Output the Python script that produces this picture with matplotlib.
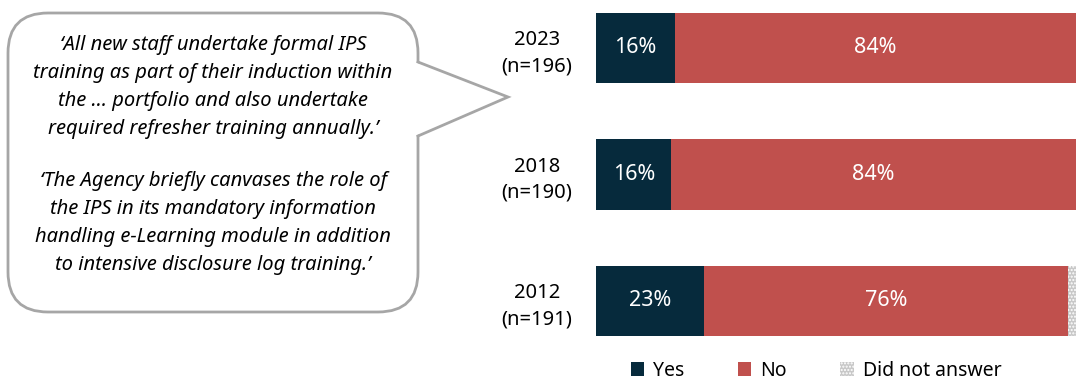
import matplotlib.pyplot as plt
from matplotlib.patches import FancyBboxPatch, Polygon, Patch
import numpy as np

plt.rcParams['font.family'] = ['Noto Sans', 'DejaVu Sans']
plt.rcParams['hatch.linewidth'] = 1.0

years = ['2023\n(n=196)', '2018\n(n=190)', '2012\n(n=191)']
yes = [16.4, 15.7, 22.6]
no = [83.6, 84.3, 75.8]
no_answer = [0.0, 0.0, 1.6]

quote1 = ("\u2018All new staff undertake formal IPS\n"
          "training as part of their induction within\n"
          "the \u2026 portfolio and also undertake\n"
          "required refresher training annually.\u2019")
quote2 = ("\u2018The Agency briefly canvases the role of\n"
          "the IPS in its mandatory information\n"
          "handling e-Learning module in addition\n"
          "to intensive disclosure log training.\u2019")

c_yes = '#062A3C'
c_no = '#C0504D'

W, H = 1085, 390
fig = plt.figure(figsize=(W / 100, H / 100), dpi=100)

# bar axes, placed in pixel terms
left, right, top, bottom = 596, 1076, 5, 345
ax = fig.add_axes([left / W, 1 - bottom / H, (right - left) / W, (bottom - top) / H])
pos = np.arange(len(years))
h = 0.56
ax.barh(pos, yes, height=h, color=c_yes)
ax.barh(pos, no, left=yes, height=h, color=c_no)
dna_left = np.array(yes) + np.array(no)
ax.barh(pos, no_answer, left=dna_left, height=h, color='#C8C8C8',
        edgecolor='white', hatch='.....', linewidth=0)

for i in pos:
    ax.text(yes[i] / 2, i, f"{yes[i]:.0f}%", color='white', ha='center', va='center', fontsize=15.5)
    ax.text(yes[i] + no[i] / 2, i, f"{no[i]:.0f}%", color='white', ha='center', va='center', fontsize=15.5)

unit = 126.5
ax.set_ylim(2 + (bottom - 301) / unit, -(48 - top) / unit)
ax.set_xlim(0, 100)
ax.set_yticks(pos)
ax.set_yticklabels(years, fontsize=14.5, ha='center', multialignment='center', linespacing=1.4)
ax.tick_params(axis='y', length=0, pad=42.5)
ax.set_xticks([])
for s in ax.spines.values():
    s.set_visible(False)

# speech bubble in pixel coordinates
ov = fig.add_axes([0, 0, 1, 1], zorder=-1)
ov.set_xlim(0, W)
ov.set_ylim(H, 0)
ov.axis('off')
gray = '#A6A6A6'
box = FancyBboxPatch((8, 13), 410, 299, boxstyle='round,pad=0,rounding_size=40',
                     facecolor='white', edgecolor=gray, linewidth=2)
ov.add_patch(box)
ov.add_patch(Polygon([(415, 62), (508, 97), (415, 136)], closed=True,
                     facecolor='white', edgecolor='none', zorder=3))
ov.plot([418, 508, 418], [62, 97, 136], color=gray, linewidth=2, zorder=4,
        solid_joinstyle='miter')
ov.text(213, 87, quote1, ha='center', va='center', fontsize=14.5, style='italic',
        linespacing=1.52, zorder=5)
ov.text(213, 223, quote2, ha='center', va='center', fontsize=14.5, style='italic',
        linespacing=1.52, zorder=5)

handles = [Patch(facecolor=c_yes, label='Yes'),
           Patch(facecolor=c_no, label='No'),
           Patch(facecolor='#C8C8C8', edgecolor='white', hatch='.....', linewidth=0,
                 label='Did not answer')]
fig.legend(handles=handles, loc='center', bbox_to_anchor=(816 / W, 1 - 371 / H), ncol=3,
           frameon=False, fontsize=14, handlelength=0.7, handleheight=0.7,
           handletextpad=0.45, columnspacing=2.75)

fig.savefig('out.png', dpi=100)
